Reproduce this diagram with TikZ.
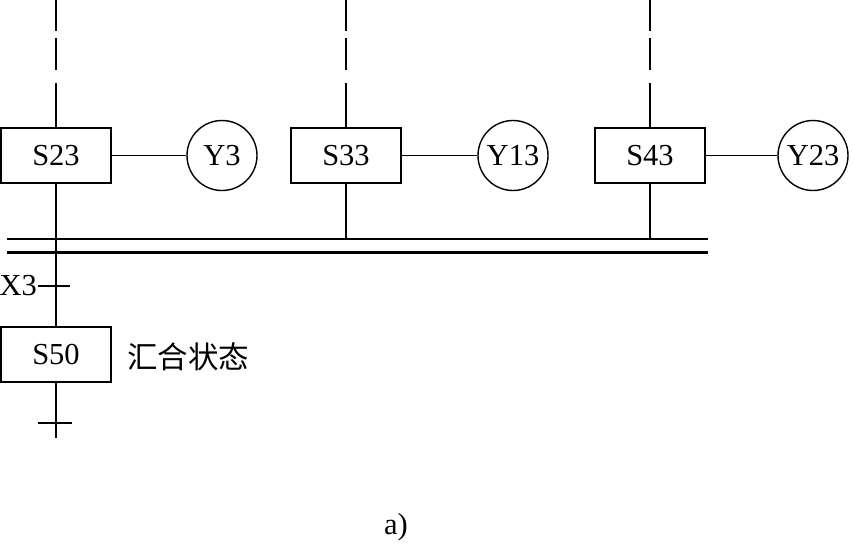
\documentclass[tikz,border=0pt]{standalone}
\usepackage{fontspec}
\setmainfont{Liberation Serif}
\newfontfamily\cjk{Noto Sans CJK SC}
\begin{document}
\begin{tikzpicture}[x=1pt,y=-1pt,
  txt/.style={font=\fontsize{30.5}{36}\selectfont},
  stepbox/.style={draw,line width=1.7pt,minimum width=110pt,minimum height=55pt,inner sep=0pt,txt},
  act/.style={draw,circle,line width=1.4pt,minimum size=70pt,inner sep=0pt,txt},
  wire/.style={line width=1.7pt},
  dashwire/.style={line width=1.7pt,dash pattern=on 31pt off 7pt on 32pt off 13pt on 45pt},
  tick/.style={line width=1.1pt},
  bar/.style={line width=2.2pt},
  barb/.style={line width=3pt}]
\useasboundingbox (0,0) rectangle (853,544);

% step boxes
\node[stepbox] (s23) at (56,155.5) {S23};
\node[stepbox] (s33) at (346,155.5) {S33};
\node[stepbox] (s43) at (650,155.5) {S43};
\node[stepbox] (s50) at (56,354.5) {S50};

% action circles
\node[act] (y3) at (222,155.5) {Y3};
\node[act] (y13) at (513,155.5) {Y13};
\node[act] (y23) at (813,155.5) {Y23};

% top coordinates for dashed incoming lines
\coordinate (t1) at (56,0);
\coordinate (t2) at (346,0);
\coordinate (t3) at (650,0);
\draw[dashwire] (t1) -- (s23.north);
\draw[dashwire] (t2) -- (s33.north);
\draw[dashwire] (t3) -- (s43.north);

% box to circle
\draw[wire] (s23.east) -- (y3.west);
\draw[wire] (s33.east) -- (y13.west);
\draw[wire] (s43.east) -- (y23.west);

% double bar (parallel convergence)
\coordinate (barL) at (7,239);
\coordinate (barR) at (708,239);
\coordinate (barL2) at (7,252);
\coordinate (barR2) at (708,252);
\draw[bar] (barL) -- (barR);
\draw[barb] (barL2) -- (barR2);

\coordinate (j2) at (346,239);
\coordinate (j3) at (650,239);
\draw[wire] (s33.south) -- (j2);
\draw[wire] (s43.south) -- (j3);

% main vertical through to S50
\draw[wire] (s23.south) -- (s50.north);

% transition X3
\coordinate (x3a) at (38,286);
\coordinate (x3b) at (70,286);
\draw[tick] (x3a) -- (x3b);
\node[txt,anchor=east,inner sep=1pt] (x3) at (x3a) {X3};

% bottom continuation
\coordinate (bend) at (56,438);
\draw[wire] (s50.south) -- (bend);
\coordinate (tba) at (38,423);
\coordinate (tbb) at (72,423);
\draw[tick] (tba) -- (tbb);

% label
\node[anchor=west,inner sep=0pt,font=\fontsize{30.5}{34}\cjk] (lbl) at (127,357) {汇合状态};

% caption
\node[txt] (cap) at (396,527) {a)};
\end{tikzpicture}
\end{document}
